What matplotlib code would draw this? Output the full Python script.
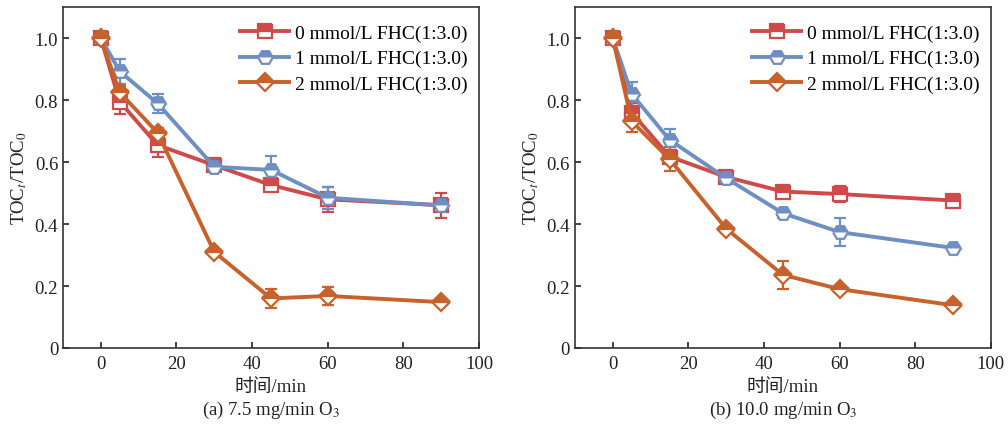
import matplotlib
matplotlib.use("Agg")
import matplotlib.pyplot as plt
from matplotlib.lines import Line2D

plt.rcParams['font.family'] = 'Liberation Serif'
plt.rcParams['mathtext.fontset'] = 'stix'
CJK = ['Liberation Serif', 'Noto Sans CJK SC']

time = [0, 5, 15, 30, 45, 60, 90]
labels = ['0 mmol/L FHC(1:3.0)', '1 mmol/L FHC(1:3.0)', '2 mmol/L FHC(1:3.0)']

a_red = [1.0, 0.795, 0.655, 0.59, 0.526, 0.48, 0.461]
a_red_err = [0.01, 0.04, 0.04, 0.015, 0.02, 0.04, 0.04]
a_blue = [1.0, 0.893, 0.79, 0.585, 0.575, 0.485, 0.46]
a_blue_err = [0.01, 0.04, 0.03, 0.015, 0.045, 0.035, 0.01]
a_orange = [1.0, 0.825, 0.695, 0.31, 0.16, 0.168, 0.148]
a_orange_err = [0.01, 0.02, 0.015, 0.01, 0.03, 0.03, 0.01]

b_red = [1.0, 0.76, 0.618, 0.552, 0.505, 0.497, 0.476]
b_red_err = [0.01, 0.03, 0.02, 0.01, 0.01, 0.025, 0.01]
b_blue = [1.0, 0.82, 0.672, 0.548, 0.435, 0.374, 0.323]
b_blue_err = [0.01, 0.04, 0.035, 0.01, 0.015, 0.045, 0.01]
b_orange = [1.0, 0.732, 0.61, 0.385, 0.236, 0.19, 0.138]
b_orange_err = [0.01, 0.035, 0.04, 0.01, 0.045, 0.01, 0.01]

x_ticks = [0, 20, 40, 60, 80, 100]
y_ticks = [0, 0.2, 0.4, 0.6, 0.8, 1.0]
y_ticklabels = ['0', '0.2', '0.4', '0.6', '0.8', '1.0']

colors = ['#d04a4a', '#6e8fc2', '#c8612a']
markers = ['s', 'H', 'D']
msizes = [10, 10.5, 9.5]

fig = plt.figure(figsize=(10.08, 4.27), dpi=100)
ax1 = fig.add_axes([0.0625, 0.1827, 0.4127, 0.798])
ax2 = fig.add_axes([0.5704, 0.1827, 0.4127, 0.798])

panels = [
    (ax1, [a_red, a_blue, a_orange], [a_red_err, a_blue_err, a_orange_err], '(a) 7.5 mg/min O$_3$'),
    (ax2, [b_red, b_blue, b_orange], [b_red_err, b_blue_err, b_orange_err], '(b) 10.0 mg/min O$_3$'),
]

for ax, series, errs, cap in panels:
    handles = []
    for y, e, c, m, ms, lab in zip(series, errs, colors, markers, msizes, labels):
        style = dict(color=c, lw=2.8, marker=m, ms=ms, fillstyle='top',
                     markerfacecoloralt='white', markeredgecolor=c, markeredgewidth=1.6)
        ax.errorbar(time, y, yerr=e, ecolor=c, elinewidth=1.6, capsize=4.5, capthick=1.6, **style)
        handles.append(Line2D([], [], label=lab, **style))
    ax.set_xlim(-10, 100)
    ax.set_ylim(0, 1.1)
    ax.set_xticks(x_ticks)
    ax.set_xticklabels([])
    ax.set_yticks(y_ticks)
    ax.set_yticklabels(y_ticklabels)
    ax.tick_params(direction='in', labelsize=13.5, length=4, width=1.2, colors='#222222')
    for s in ax.spines.values():
        s.set_linewidth(1.2)
        s.set_color('#333333')
    # x tick labels drawn at the tick positions through the axis transform
    for t in x_ticks:
        ax.text(t, -0.022, str(t), transform=ax.get_xaxis_transform(), ha='center', va='top',
                fontsize=13.5, color='#222222', clip_on=False, zorder=10)
    ax.text(0.5, -0.112, '时间/min', transform=ax.transAxes, ha='center', va='center',
            fontsize=13.5, color='#222222', family=CJK, zorder=10)
    ax.set_ylabel('TOC$_t$/TOC$_0$', fontsize=13.5, labelpad=4, color='#222222')
    ax.text(0.5, -0.18, cap, transform=ax.transAxes, ha='center', va='center', fontsize=13.5,
            color='#222222', zorder=10)
    ax.legend(handles=handles, loc='upper right', bbox_to_anchor=(1.005, 0.99), frameon=False,
              fontsize=14, handlelength=2.5, borderaxespad=0.3, labelspacing=0.4, handletextpad=0.3)

fig.savefig('out.png', dpi=100)
